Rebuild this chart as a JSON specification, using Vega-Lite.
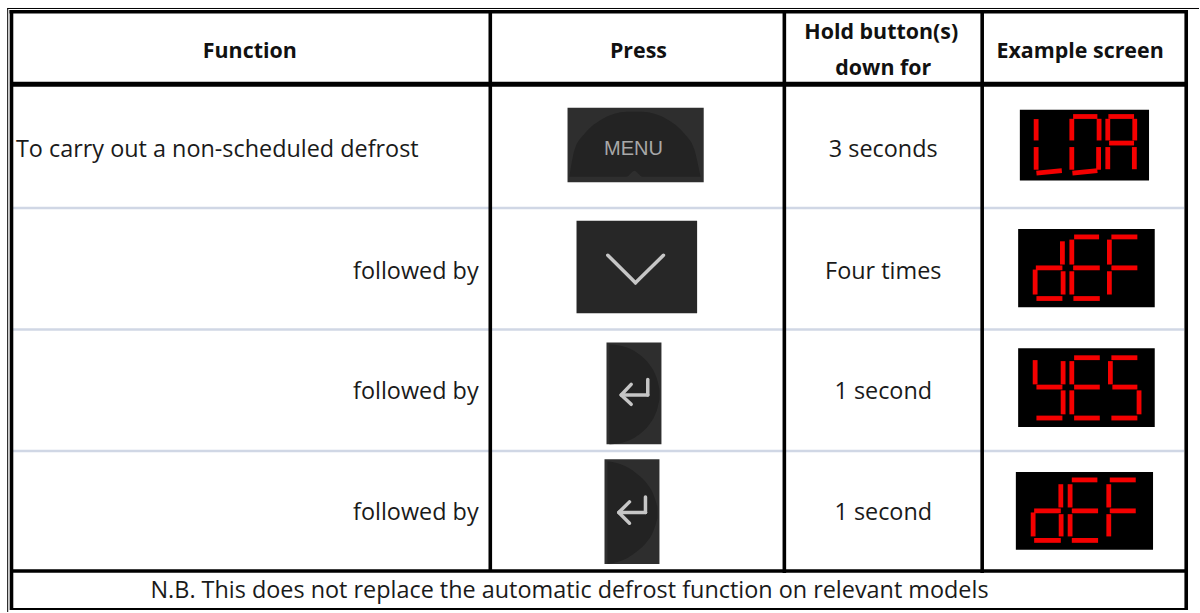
{
"$schema":"https://vega.github.io/schema/vega-lite/v6.json",
"autosize":{"type":"fit","contains":"padding"},
"width":1200,"height":613,"padding":0,"background":"#ffffff",
"config":{"view":{"stroke":null}},
"datasets":{
"blocks":[
{"name":"menu","kind":"button","x":568,"x2":704.3,"y":108,"y2":182.5},
{"name":"down","kind":"downbutton","x":577,"x2":697.7,"y":221,"y2":313.7},
{"name":"enter1","kind":"button","x":607,"x2":662,"y":343,"y2":445},
{"name":"enter2","kind":"button","x":605,"x2":660,"y":460,"y2":565},
{"name":"LOA","kind":"display","x":1020.7,"x2":1150,"y":110,"y2":180.7},
{"name":"dEF","kind":"display","x":1019,"x2":1155.7,"y":229.3,"y2":307.7},
{"name":"YES","kind":"display","x":1019,"x2":1155.7,"y":348.7,"y2":427.7},
{"name":"dEF2","kind":"display","x":1016.7,"x2":1154,"y":472.7,"y2":550.7}
],
"arcs":[
{"s":"menu","x":570,"y":176,"y2":177},{"s":"menu","x":575,"y":150,"y2":177},{"s":"menu","x":585,"y":134,"y2":177},{"s":"menu","x":600,"y":121,"y2":177},{"s":"menu","x":615,"y":114,"y2":177},{"s":"menu","x":627,"y":112,"y2":177},{"s":"menu","x":635,"y":112,"y2":171},{"s":"menu","x":643,"y":112,"y2":177},{"s":"menu","x":655,"y":114,"y2":177},{"s":"menu","x":670,"y":121,"y2":177},{"s":"menu","x":685,"y":134,"y2":177},{"s":"menu","x":695,"y":150,"y2":177},{"s":"menu","x":701,"y":176,"y2":177},
{"s":"e1","x":610,"y":345,"y2":445},{"s":"e1","x":620,"y":346,"y2":444},{"s":"e1","x":630,"y":349,"y2":441},{"s":"e1","x":640,"y":355,"y2":435},{"s":"e1","x":650,"y":365,"y2":425},{"s":"e1","x":655,"y":373,"y2":417},{"s":"e1","x":658,"y":381,"y2":409},{"s":"e1","x":660,"y":390,"y2":400},
{"s":"e2","x":608,"y":462,"y2":565},{"s":"e2","x":618,"y":464,"y2":563},{"s":"e2","x":628,"y":468,"y2":559},{"s":"e2","x":638,"y":475,"y2":552},{"s":"e2","x":648,"y":485,"y2":542},{"s":"e2","x":653,"y":493,"y2":534},{"s":"e2","x":656,"y":501,"y2":526},{"s":"e2","x":658,"y":508,"y2":519}
],
"lines":[
{"kind":"thin","x":7.5,"x2":1200,"y":8.5,"y2":8.5},
{"kind":"thin","x":7.7,"x2":7.7,"y":8,"y2":613},
{"kind":"top","x":9.5,"x2":1189,"y":11.7,"y2":11.7},
{"kind":"top","x":11.5,"x2":11.5,"y":10,"y2":611},
{"kind":"top","x":1187.2,"x2":1187.2,"y":10,"y2":611},
{"kind":"top","x":490.7,"x2":490.7,"y":12,"y2":572},
{"kind":"top","x":785,"x2":785,"y":12,"y2":574},
{"kind":"top","x":983,"x2":983,"y":12,"y2":574},
{"kind":"header","x":10,"x2":1189,"y":84.5,"y2":84.5},
{"kind":"top","x":10,"x2":1189,"y":572,"y2":572},
{"kind":"bottom","x":10,"x2":1189,"y":610,"y2":610},
{"kind":"grid","x":13,"x2":1185,"y":208.3,"y2":208.3},
{"kind":"grid","x":13,"x2":1185,"y":330,"y2":330},
{"kind":"grid","x":13,"x2":1185,"y":451.7,"y2":451.7}
],
"segments":[
{"x":1037,"x2":1037,"y":119.3,"y2":140.7},{"x":1037,"x2":1037,"y":147.3,"y2":170},{"x":1037.3,"x2":1062.7,"y":173.3,"y2":171},
{"x":1072.7,"x2":1072.7,"y":119,"y2":140.7},{"x":1074,"x2":1098.3,"y":116.7,"y2":116.7},{"x":1100,"x2":1100,"y":119,"y2":140.7},{"x":1072.7,"x2":1072.7,"y":147.3,"y2":170},{"x":1099.5,"x2":1099.5,"y":147.3,"y2":170},{"x":1073.3,"x2":1098.3,"y":173.3,"y2":171},
{"x":1109.3,"x2":1135,"y":116.7,"y2":116.7},{"x":1108.7,"x2":1108.7,"y":119,"y2":140.7},{"x":1135.7,"x2":1135.7,"y":119,"y2":140.7},{"x":1110,"x2":1135,"y":143.3,"y2":143.3},{"x":1108.7,"x2":1108.7,"y":147.3,"y2":169.5},{"x":1135.3,"x2":1135.3,"y":147.3,"y2":169.5},
{"x":1063.3,"x2":1063.3,"y":241.7,"y2":265},{"x":1036.7,"x2":1063.3,"y":268.3,"y2":268.3},{"x":1036,"x2":1036,"y":270,"y2":295},{"x":1064,"x2":1064,"y":271.7,"y2":295},{"x":1037.3,"x2":1063.3,"y":299,"y2":299},
{"x":1075,"x2":1100,"y":237.3,"y2":237.3},{"x":1072.7,"x2":1072.7,"y":240,"y2":265},{"x":1074,"x2":1100.7,"y":268.3,"y2":268.3},{"x":1072.7,"x2":1072.7,"y":271.7,"y2":295},{"x":1074.3,"x2":1100.7,"y":299,"y2":299},
{"x":1112.3,"x2":1138.3,"y":237.3,"y2":237.3},{"x":1110.3,"x2":1110.3,"y":240,"y2":265},{"x":1112.3,"x2":1138.3,"y":268.3,"y2":268.3},{"x":1110.3,"x2":1110.3,"y":271.7,"y2":295},
{"x":1036,"x2":1036,"y":360.7,"y2":385},{"x":1037.3,"x2":1063.3,"y":387.7,"y2":387.7},{"x":1064,"x2":1064,"y":361.7,"y2":385},{"x":1064,"x2":1064,"y":391,"y2":415},{"x":1037.3,"x2":1063.3,"y":418.7,"y2":418.7},
{"x":1075,"x2":1100.7,"y":358.3,"y2":358.3},{"x":1072.7,"x2":1072.7,"y":361.7,"y2":385},{"x":1075,"x2":1100.7,"y":387.7,"y2":387.7},{"x":1072.7,"x2":1072.7,"y":391,"y2":415},{"x":1075,"x2":1100.7,"y":418.7,"y2":418.7},
{"x":1112.3,"x2":1138.3,"y":358.3,"y2":358.3},{"x":1111.3,"x2":1111.3,"y":361.7,"y2":385},{"x":1113.3,"x2":1138.3,"y":387.7,"y2":387.7},{"x":1140,"x2":1140,"y":391,"y2":415},{"x":1112.3,"x2":1138.3,"y":418.7,"y2":418.7},
{"x":1061.7,"x2":1061.7,"y":485,"y2":508.3},{"x":1035,"x2":1061.7,"y":511.7,"y2":511.7},{"x":1034,"x2":1034,"y":513.3,"y2":537.3},{"x":1062,"x2":1062,"y":515,"y2":537.3},{"x":1035,"x2":1061.7,"y":541.3,"y2":541.3},
{"x":1072.7,"x2":1098.3,"y":480.7,"y2":480.7},{"x":1071,"x2":1071,"y":485,"y2":508.3},{"x":1072.7,"x2":1099,"y":511.7,"y2":511.7},{"x":1071,"x2":1071,"y":515,"y2":537.3},{"x":1072.7,"x2":1099,"y":541.3,"y2":541.3},
{"x":1110.7,"x2":1136.7,"y":480.7,"y2":480.7},{"x":1109.7,"x2":1109.7,"y":485,"y2":508.3},{"x":1110.7,"x2":1136.7,"y":511.7,"y2":511.7},{"x":1109.7,"x2":1109.7,"y":515,"y2":537.3}
],
"glyphs":[
{"x":608.3,"x2":636,"y":255.7,"y2":283.3},{"x":636,"x2":664,"y":283.3,"y2":255.7},
{"x":648.3,"x2":648.3,"y":380,"y2":395.7},{"x":648.3,"x2":623.3,"y":395.7,"y2":395.7},{"x":631.7,"x2":621.7,"y":385,"y2":395.7},{"x":621.7,"x2":631.7,"y":395.7,"y2":405},
{"x":646,"x2":646,"y":497.7,"y2":513.3},{"x":646,"x2":621.7,"y":513.3,"y2":513.3},{"x":630,"x2":619.3,"y":502.7,"y2":513.3},{"x":619.3,"x2":630,"y":513.3,"y2":524}
],
"textCenter":[
{"label":"3 seconds","x":884,"y":150},{"label":"Four times","x":884,"y":272},{"label":"1 second","x":884,"y":393},{"label":"1 second","x":884,"y":514},
{"label":"N.B. This does not replace the automatic defrost function on relevant models","x":570,"y":592}
],
"textBold":[
{"label":"Function","x":250,"y":52},{"label":"Press","x":639,"y":52},{"label":"Hold button(s)","x":882,"y":33},{"label":"down for","x":884,"y":69},{"label":"Example screen","x":1081,"y":52}
],
"textLeft":[{"label":"To carry out a non-scheduled defrost","x":16,"y":150}],
"textRight":[{"label":"followed by","x":479,"y":272},{"label":"followed by","x":479,"y":393},{"label":"followed by","x":479,"y":514}],
"buttonText":[{"label":"MENU","x":634,"y":149}]
},
"encoding":{
"x":{"field":"x","type":"quantitative","axis":null,"scale":{"domain":[0,1200],"nice":false,"zero":false}},
"y":{"field":"y","type":"quantitative","axis":null,"scale":{"domain":[613,0],"nice":false,"zero":false}}
},
"layer":[
{"data":{"name":"blocks"},"mark":{"type":"rect"},"encoding":{"x2":{"field":"x2"},"y2":{"field":"y2"},"color":{"field":"kind","type":"nominal","legend":null,"scale":{"domain":["button","downbutton","display"],"range":["#2e2e2e","#272727","#000000"]}}}},
{"data":{"name":"arcs"},"mark":{"type":"area","color":"#232323","interpolate":"monotone"},"encoding":{"y2":{"field":"y2"},"detail":{"field":"s"}}},
{"data":{"name":"lines"},"transform":[{"filter":"datum.kind==='grid'"}],"mark":{"type":"rule","color":"#d0d7e5","strokeWidth":2.5},"encoding":{"x2":{"field":"x2"},"y2":{"field":"y2"}}},
{"data":{"name":"lines"},"transform":[{"filter":"datum.kind==='thin'"}],"mark":{"type":"rule","color":"#000000","strokeWidth":1},"encoding":{"x2":{"field":"x2"},"y2":{"field":"y2"}}},
{"data":{"name":"lines"},"transform":[{"filter":"datum.kind==='top'"}],"mark":{"type":"rule","color":"#000000","strokeWidth":3.6},"encoding":{"x2":{"field":"x2"},"y2":{"field":"y2"}}},
{"data":{"name":"lines"},"transform":[{"filter":"datum.kind==='header'"}],"mark":{"type":"rule","color":"#000000","strokeWidth":5},"encoding":{"x2":{"field":"x2"},"y2":{"field":"y2"}}},
{"data":{"name":"lines"},"transform":[{"filter":"datum.kind==='bottom'"}],"mark":{"type":"rule","color":"#000000","strokeWidth":2},"encoding":{"x2":{"field":"x2"},"y2":{"field":"y2"}}},
{"data":{"name":"segments"},"mark":{"type":"rule","color":"#f50000","strokeWidth":4.8},"encoding":{"x2":{"field":"x2"},"y2":{"field":"y2"}}},
{"data":{"name":"glyphs"},"mark":{"type":"rule","color":"#c6c6c6","strokeWidth":3.5,"strokeCap":"round"},"encoding":{"x2":{"field":"x2"},"y2":{"field":"y2"}}},
{"data":{"name":"buttonText"},"mark":{"type":"text","font":"Liberation Sans","fontSize":20,"color":"#a8a8a8","align":"center","baseline":"middle"},"encoding":{"text":{"field":"label"}}},
{"data":{"name":"textCenter"},"mark":{"type":"text","font":"Open Sans","fontSize":23.4,"color":"#1a1a1a","align":"center","baseline":"middle"},"encoding":{"text":{"field":"label"}}},
{"data":{"name":"textBold"},"mark":{"type":"text","font":"Open Sans","fontSize":21.4,"fontWeight":"bold","color":"#111111","align":"center","baseline":"middle"},"encoding":{"text":{"field":"label"}}},
{"data":{"name":"textLeft"},"mark":{"type":"text","font":"Open Sans","fontSize":23.4,"color":"#1a1a1a","align":"left","baseline":"middle"},"encoding":{"text":{"field":"label"}}},
{"data":{"name":"textRight"},"mark":{"type":"text","font":"Open Sans","fontSize":23.4,"color":"#1a1a1a","align":"right","baseline":"middle"},"encoding":{"text":{"field":"label"}}}
]
}
